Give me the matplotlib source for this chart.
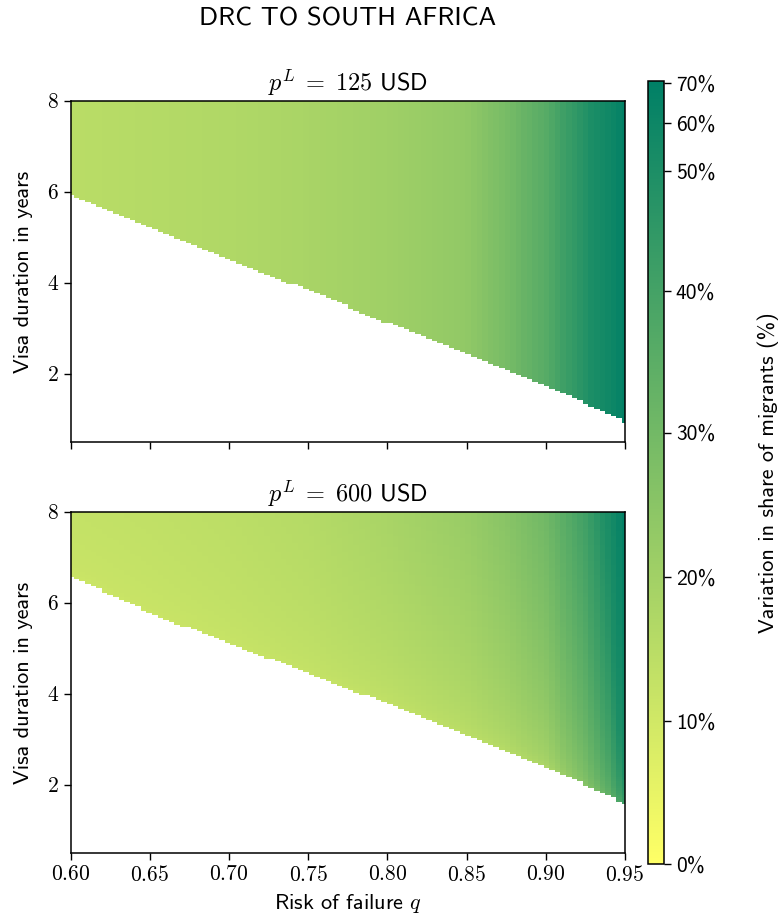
import numpy as np
import matplotlib
matplotlib.use("Agg")
import matplotlib.pyplot as plt
from matplotlib.colors import FuncNorm
from matplotlib.ticker import FixedLocator, FuncFormatter

# ---------------- data ----------------
# colour-scale: tick values (%) and their fractional position on the colourbar
cbar_values = [0, 10, 20, 30, 40, 50, 60, 70, 70.3]
cbar_fracs = [0.0, 0.183, 0.366, 0.551, 0.732, 0.885, 0.946, 0.997, 1.0]

# panel 1 (p^L = 125 USD): lower edge of the feasible region and values per q
q_knots = [0.60, 0.65, 0.70, 0.75, 0.80, 0.85, 0.875, 0.90, 0.925, 0.94, 0.95]
top_boundary = [5.91, 5.20, 4.53, 3.83, 3.12, 2.46, 2.10, 1.74, 1.35, 1.12, 0.95]
top_value = [15.0, 16.0, 17.0, 18.5, 20.5, 23.5, 29.0, 36.0, 48.0, 58.0, 69.0]

# panel 2 (p^L = 600 USD)
bot_boundary = [6.59, 5.78, 5.10, 4.46, 3.78, 3.07, 2.73, 2.39, 2.00, 1.75, 1.58]
bot_value_top = [12.8, 13.5, 14.5, 16.0, 18.6, 22.0, 25.5, 30.5, 41.0, 52.0, 69.0]
bot_value_edge = [11.0, 11.3, 11.7, 12.2, 12.8, 13.8, 15.0, 17.0, 25.0, 32.0, 40.0]

panel_titles = [r"$p^L \;=\; 125$ USD", r"$p^L \;=\; 600$ USD"]
suptitle = "DRC TO SOUTH AFRICA"
xlabel = r"Risk of failure $q$"
ylabel = "Visa duration in years"
cbar_label = "Variation in share of migrants (%)"
xticks = [0.60, 0.65, 0.70, 0.75, 0.80, 0.85, 0.90, 0.95]
yticks = [2, 4, 6, 8]
cticks = [0, 10, 20, 30, 40, 50, 60, 70]

# ---------------- build the grids ----------------
q = np.linspace(0.60, 0.95, 100)
D = np.linspace(0.5, 8.0, 151)
Q, DD = np.meshgrid(q, D)

Db1 = np.interp(Q, q_knots, top_boundary)
Z1 = np.interp(Q, q_knots, top_value)
Z1 = np.ma.masked_where(DD < Db1, Z1)

Db2 = np.interp(Q, q_knots, bot_boundary)
vt = np.interp(Q, q_knots, bot_value_top)
ve = np.interp(Q, q_knots, bot_value_edge)
t = np.clip((DD - Db2) / (8.0 - Db2), 0, 1)
Z2 = ve + (vt - ve) * np.sqrt(t)
Z2 = np.ma.masked_where(DD < Db2, Z2)

# ---------------- style ----------------
plt.rcParams["font.family"] = ["cmss10", "DejaVu Sans"]
plt.rcParams["mathtext.fontset"] = "cm"
plt.rcParams["axes.unicode_minus"] = False


def _fwd(x):
    return np.ma.masked_array(np.interp(np.ma.getdata(x), cbar_values, cbar_fracs),
                              mask=np.ma.getmask(x))


def _inv(y):
    return np.ma.masked_array(np.interp(np.ma.getdata(y), cbar_fracs, cbar_values),
                              mask=np.ma.getmask(y))


norm = FuncNorm((_fwd, _inv), vmin=0, vmax=70.3)
cmap = plt.get_cmap("summer_r").copy()
cmap.set_bad("white")

fig = plt.figure(figsize=(7.8, 9.22), dpi=100)
ax1 = fig.add_axes([0.091, 0.5206, 0.710, 0.3699])
ax2 = fig.add_axes([0.091, 0.0748, 0.710, 0.3699])
cax = fig.add_axes([0.8308, 0.0629, 0.0205, 0.8492])

mesh = None
for ax, Z, title in [(ax1, Z1, panel_titles[0]), (ax2, Z2, panel_titles[1])]:
    mesh = ax.pcolormesh(Q, DD, Z, cmap=cmap, norm=norm, shading="nearest")
    ax.set_xlim(0.60, 0.95)
    ax.set_ylim(0.5, 8.0)
    ax.set_title(title, fontsize=17.5, pad=7)
    ax.set_ylabel(ylabel, fontsize=16, labelpad=10)
    ax.xaxis.set_major_locator(FixedLocator(xticks))
    ax.yaxis.set_major_locator(FixedLocator(yticks))
    ax.xaxis.set_major_formatter(FuncFormatter(lambda v, p: r"$%.2f$" % v))
    ax.yaxis.set_major_formatter(FuncFormatter(lambda v, p: r"$%d$" % v))
    ax.tick_params(labelsize=15.5, length=5, width=1, direction="out")
    for s in ax.spines.values():
        s.set_linewidth(1.1)

ax1.tick_params(labelbottom=False)
ax2.set_xlabel(xlabel, fontsize=16, labelpad=5)

cb = fig.colorbar(mesh, cax=cax, ticks=cticks)
cb.ax.yaxis.set_major_formatter(FuncFormatter(lambda v, p: "%d%%" % round(v)))
cb.ax.tick_params(labelsize=15.5, length=5, width=1)
cb.ax.minorticks_off()
cb.outline.set_linewidth(1.1)
cb.set_label(cbar_label, fontsize=16, labelpad=30)

fig.suptitle(suptitle, x=0.446, y=0.979, va="center", fontsize=19)

fig.savefig("out.png", dpi=100)
